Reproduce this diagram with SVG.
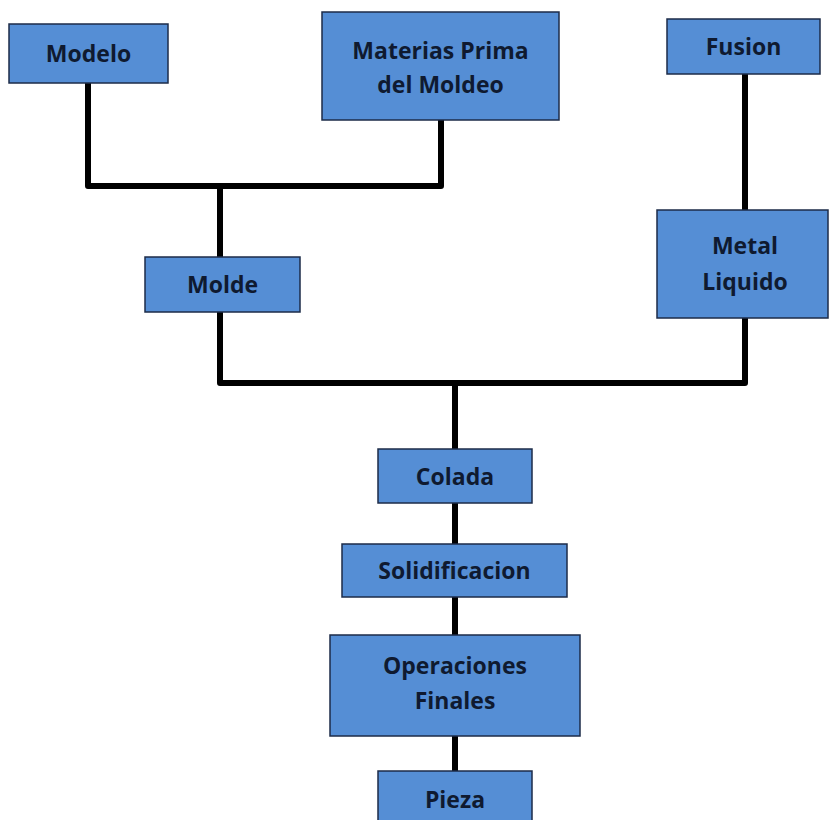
<svg xmlns="http://www.w3.org/2000/svg" width="829" height="820" viewBox="0 0 829 820">
<style>
.box{fill:#558ed5;stroke:#1c2b48;stroke-width:1.5}
.lbl{font-family:"Open Sans","Liberation Sans",sans-serif;font-weight:bold;font-size:23px;fill:#0f1a30;text-anchor:middle}
.wire{fill:none;stroke:#000;stroke-width:6;stroke-linejoin:round;stroke-linecap:square}
</style>
<rect width="829" height="820" fill="#fff"/>
<g id="connectors">
<polyline class="wire" points="88,83 88,186 441,186 441,120"/>
<polyline class="wire" points="220,186 220,257"/>
<polyline class="wire" points="745,74 745,210"/>
<polyline class="wire" points="220,312 220,383 745,383 745,318"/>
<polyline class="wire" points="455,383 455,449"/>
<polyline class="wire" points="455,503 455,544"/>
<polyline class="wire" points="455,597 455,635"/>
<polyline class="wire" points="455,736 455,771"/>
</g>
<g id="modelo"><rect class="box" x="9" y="24" width="159" height="59"/><text class="lbl" x="88.5" y="62">Modelo</text></g>
<g id="materias"><rect class="box" x="322" y="12" width="237" height="108"/><text class="lbl" x="440.5" y="59">Materias Prima</text><text class="lbl" x="440.5" y="93">del Moldeo</text></g>
<g id="fusion"><rect class="box" x="667" y="19" width="153" height="55"/><text class="lbl" x="743.5" y="55">Fusion</text></g>
<g id="molde"><rect class="box" x="145" y="257" width="155" height="55"/><text class="lbl" x="222.5" y="293">Molde</text></g>
<g id="metal"><rect class="box" x="657" y="210" width="171" height="108"/><text class="lbl" x="745" y="254">Metal</text><text class="lbl" x="745" y="290">Liquido</text></g>
<g id="colada"><rect class="box" x="378" y="449" width="154" height="54"/><text class="lbl" x="455" y="485">Colada</text></g>
<g id="solidificacion"><rect class="box" x="342" y="544" width="225" height="53"/><text class="lbl" x="454.5" y="579">Solidificacion</text></g>
<g id="operaciones"><rect class="box" x="330" y="635" width="250" height="101"/><text class="lbl" x="455" y="674">Operaciones</text><text class="lbl" x="455" y="709">Finales</text></g>
<g id="pieza"><rect class="box" x="378" y="771" width="154" height="60"/><text class="lbl" x="455" y="808">Pieza</text></g>
</svg>
